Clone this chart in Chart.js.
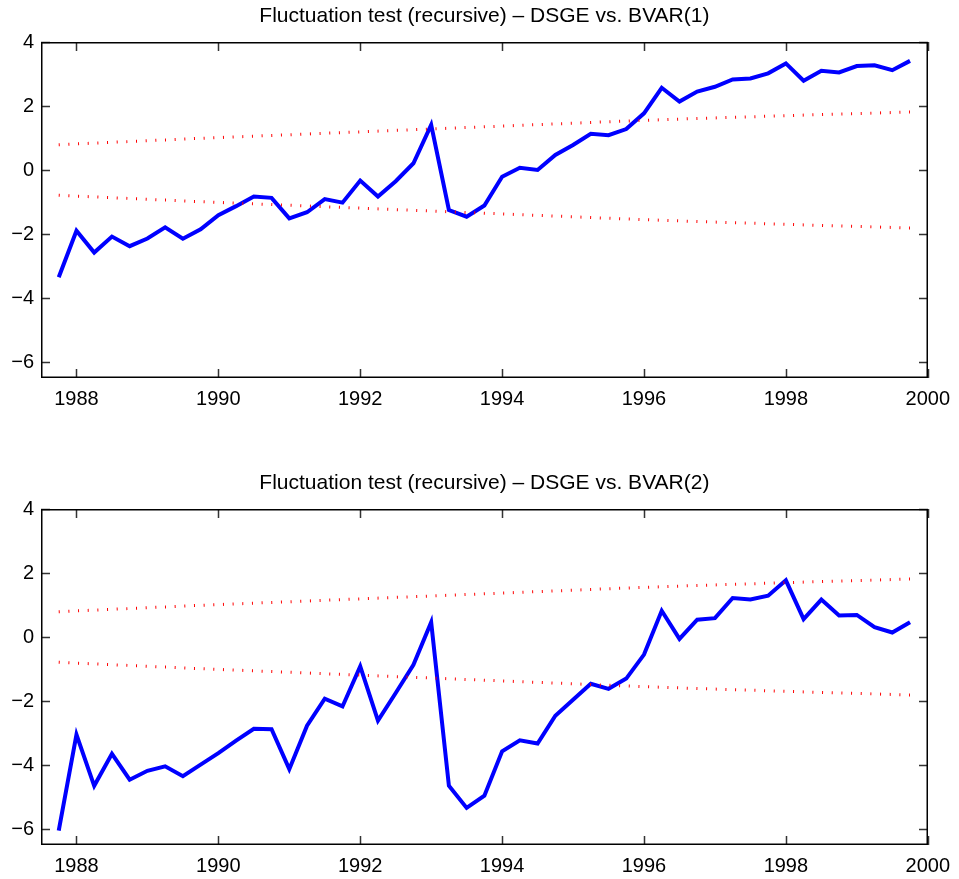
<!DOCTYPE html>
<html>
<head>
<meta charset="utf-8">
<script src="https://cdn.jsdelivr.net/npm/chart.js@4.4.1/dist/chart.umd.min.js"></script>
<style>
  html, body { margin: 0; padding: 0; background: #fff; overflow: hidden; }
  .panel { position: absolute; left: 0; width: 959px; height: 420px; }
</style>
</head>
<body>
<div class="panel" style="top:0px"><canvas id="chartTop" width="959" height="420"></canvas></div>
<div class="panel" style="top:467px"><canvas id="chartBottom" width="959" height="420"></canvas></div>
<script>
// quarterly dates, 1987Q4 .. 1999Q4
const quarters = [
  '1987Q4',
  '1988Q1','1988Q2','1988Q3','1988Q4',
  '1989Q1','1989Q2','1989Q3','1989Q4',
  '1990Q1','1990Q2','1990Q3','1990Q4',
  '1991Q1','1991Q2','1991Q3','1991Q4',
  '1992Q1','1992Q2','1992Q3','1992Q4',
  '1993Q1','1993Q2','1993Q3','1993Q4',
  '1994Q1','1994Q2','1994Q3','1994Q4',
  '1995Q1','1995Q2','1995Q3','1995Q4',
  '1996Q1','1996Q2','1996Q3','1996Q4',
  '1997Q1','1997Q2','1997Q3','1997Q4',
  '1998Q1','1998Q2','1998Q3','1998Q4',
  '1999Q1','1999Q2','1999Q3','1999Q4'
];

// fluctuation statistic, DSGE vs BVAR(1)
const statBvar1 = [
  -3.35,
  -1.90, -2.58, -2.08, -2.38,
  -2.14, -1.79, -2.15, -1.85,
  -1.41, -1.13, -0.83, -0.87,
  -1.51, -1.32, -0.91, -1.02,
  -0.33, -0.83, -0.35, 0.21,
  1.41, -1.25, -1.46, -1.11,
  -0.21, 0.07, 0.00, 0.47,
  0.78, 1.13, 1.09, 1.28,
  1.77, 2.57, 2.14, 2.45,
  2.60, 2.83, 2.86, 3.02,
  3.33, 2.79, 3.10, 3.05,
  3.25, 3.27, 3.12, 3.41
];

// fluctuation statistic, DSGE vs BVAR(2)
const statBvar2 = [
  -6.05,
  -3.05, -4.65, -3.65, -4.46,
  -4.18, -4.04, -4.35, -3.99,
  -3.63, -3.24, -2.87, -2.88,
  -4.13, -2.77, -1.93, -2.17,
  -0.92, -2.61, -1.75, -0.87,
  0.46, -4.65, -5.34, -4.96,
  -3.57, -3.23, -3.33, -2.46,
  -1.96, -1.46, -1.62, -1.30,
  -0.55, 0.82, -0.06, 0.54,
  0.59, 1.22, 1.17, 1.29,
  1.77, 0.56, 1.17, 0.67,
  0.69, 0.31, 0.14, 0.46
];

// critical value bands (read once a year)
const boundDates = ['1987Q4','1988Q4','1989Q4','1990Q4','1991Q4','1992Q4','1993Q4',
                    '1994Q4','1995Q4','1996Q4','1997Q4','1998Q4','1999Q4'];
const upperBound = [0.79, 0.89, 0.99, 1.08, 1.17, 1.26, 1.35, 1.44, 1.53, 1.61, 1.68, 1.75, 1.81];
const lowerBound = [-0.79, -0.89, -0.99, -1.08, -1.17, -1.26, -1.35, -1.44, -1.53, -1.61, -1.68, -1.75, -1.81];

const xTickYears = [1988, 1990, 1992, 1994, 1996, 1998, 2000];
const yTickVals = [-6, -4, -2, 0, 2, 4];

const titles = [
  'Fluctuation test (recursive) \u2013 DSGE vs. BVAR(1)',
  'Fluctuation test (recursive) \u2013 DSGE vs. BVAR(2)'
];

function qToYear(q) {
  const yr = parseInt(q.slice(0, 4), 10);
  const qn = parseInt(q.slice(5), 10);
  return yr + (qn - 1) / 4;
}

const FONT = '"Liberation Sans", Arial, Helvetica, sans-serif';

// MATLAB style box with inward ticks on all four sides
const boxTicks = {
  id: 'boxTicks',
  afterDraw(chart) {
    const ctx = chart.ctx;
    const a = chart.chartArea;
    const xs = chart.scales.x, ys = chart.scales.y;
    const len = 9;
    const L = Math.round(a.left), T = Math.round(a.top);
    const R = Math.round(a.right), B = Math.round(a.bottom);
    ctx.save();
    ctx.setLineDash([]);
    ctx.globalAlpha = 1;
    ctx.fillStyle = '#333';
    xTickYears.forEach(v => {
      const px = Math.round(xs.getPixelForValue(v));
      ctx.fillRect(px - 0.25, B - len, 1.5, len);
      ctx.fillRect(px - 0.25, T, 1.5, len);
    });
    yTickVals.forEach(v => {
      const py = Math.round(ys.getPixelForValue(v));
      ctx.fillRect(L, py - 0.25, len, 1.5);
      ctx.fillRect(R - len, py - 0.25, len, 1.5);
    });
    ctx.fillStyle = '#000';
    ctx.fillRect(L, T, R - L, 1.5);
    ctx.fillRect(L, B - 1.5, R - L, 1.5);
    ctx.fillRect(L, T, 1.5, B - T);
    ctx.fillRect(R - 1.5, T, 1.5, B - T);
    ctx.restore();
  }
};

function makeChart(id, stat, title) {
  const ctx = document.getElementById(id).getContext('2d');
  return new Chart(ctx, {
    type: 'line',
    data: {
      datasets: [
        {
          data: boundDates.map((q, i) => ({ x: qToYear(q), y: upperBound[i] })),
          borderColor: '#ff0000',
          borderWidth: 3,
          borderDash: [1, 8.67],
          pointRadius: 0,
          tension: 0
        },
        {
          data: boundDates.map((q, i) => ({ x: qToYear(q), y: lowerBound[i] })),
          borderColor: '#ff0000',
          borderWidth: 3,
          borderDash: [1, 8.67],
          pointRadius: 0,
          tension: 0
        },
        {
          data: quarters.map((q, i) => ({ x: qToYear(q), y: stat[i] })),
          borderColor: '#0000ff',
          borderWidth: 4,
          pointRadius: 0,
          tension: 0
        }
      ]
    },
    options: {
      responsive: false,
      animation: false,
      layout: { padding: { left: 0, right: 28, top: 0, bottom: 0 } },
      plugins: {
        legend: { display: false },
        tooltip: { enabled: false },
        title: {
          display: true,
          fullSize: false,
          text: title,
          color: '#000',
          font: { family: FONT, size: 21, weight: 'normal', lineHeight: 1.2 },
          padding: { top: 4, bottom: 12.8 }
        }
      },
      scales: {
        x: {
          type: 'linear',
          min: 1987.5,
          max: 2000,
          afterBuildTicks: s => { s.ticks = xTickYears.map(v => ({ value: v })); },
          afterFit: s => { s.height = 42; },
          grid: { display: false, drawTicks: false },
          border: { display: false },
          ticks: {
            color: '#000',
            padding: 9,
            maxRotation: 0,
            font: { family: FONT, size: 20 },
            callback: v => String(v)
          }
        },
        y: {
          type: 'linear',
          min: -6.5,
          max: 4,
          afterBuildTicks: s => { s.ticks = yTickVals.map(v => ({ value: v })); },
          afterFit: s => { s.width = 41; },
          grid: { display: false, drawTicks: false },
          border: { display: false },
          ticks: {
            color: '#000',
            padding: 7,
            font: { family: FONT, size: 20 },
            callback: v => (v < 0 ? '\u2212' + Math.abs(v) : String(v))
          }
        }
      }
    },
    plugins: [boxTicks]
  });
}

makeChart('chartTop', statBvar1, titles[0]);
makeChart('chartBottom', statBvar2, titles[1]);
</script>
</body>
</html>
